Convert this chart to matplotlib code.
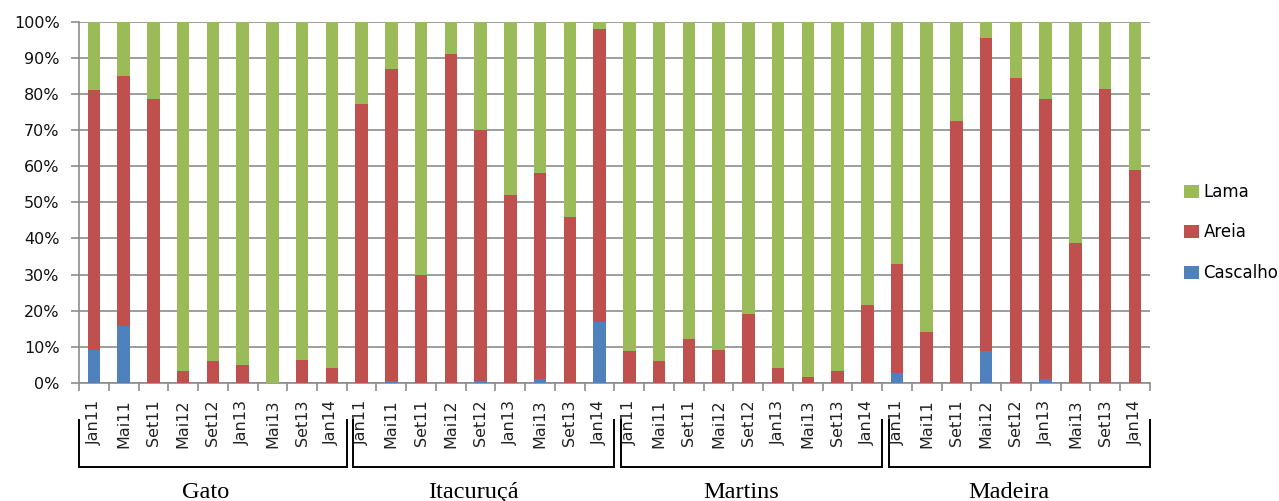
import matplotlib
matplotlib.use("Agg")
import matplotlib.pyplot as plt
import numpy as np

# ---------------------------------------------------------------------------
# DATA (% of sediment fraction per sample)
# ---------------------------------------------------------------------------

SITES = ["Gato", "Itacuruçá", "Martins", "Madeira"]
CAMPAIGNS = ["Jan11", "Mai11", "Set11", "Mai12", "Set12", "Jan13", "Mai13", "Set13", "Jan14"]

# Cascalho (gravel)
cascalho = [
    9.2, 15.9, 0, 0, 0, 0, 0, 0, 0,
    0, 0.6, 0, 0, 0.6, 0, 1.1, 0, 16.8,
    0, 0, 0, 0, 0, 0, 0, 0, 0,
    2.8, 0, 0, 8.8, 0, 1.1, 0, 0, 0,
]

# cumulative top of Areia (cascalho + areia)
areia_top = [
    81.1, 84.8, 78.5, 3.4, 6.1, 5.1, 0, 6.5, 4.2,
    77.1, 87.0, 29.8, 91.1, 70.0, 52.1, 58.0, 45.9, 97.8,
    8.8, 6.1, 12.3, 9.2, 19.0, 4.2, 1.6, 3.3, 21.7,
    32.9, 14.1, 72.6, 95.5, 84.3, 78.5, 38.7, 81.2, 58.8,
]

cascalho = np.array(cascalho)
areia = np.array(areia_top) - cascalho
lama = 100 - cascalho - areia

COLORS = {"Cascalho": "#4F81BD", "Areia": "#C0504D", "Lama": "#9BBB59"}
GRID = "#8C8C8C"

# ---------------------------------------------------------------------------
# PLOT
# ---------------------------------------------------------------------------

fig = plt.figure(figsize=(12.79, 5.01), dpi=100)
ax = fig.add_axes([0.0618, 0.2355, 0.899 - 0.0618, 0.957 - 0.2355])

n = len(cascalho)
x = np.arange(n) + 0.5
w = 0.42

b1 = ax.bar(x, cascalho, w, color=COLORS["Cascalho"], label="Cascalho", zorder=3)
b2 = ax.bar(x, areia, w, bottom=cascalho, color=COLORS["Areia"], label="Areia", zorder=3)
b3 = ax.bar(x, lama, w, bottom=cascalho + areia, color=COLORS["Lama"], label="Lama", zorder=3)

ax.set_xlim(0, n)
ax.set_ylim(0, 100)
ax.set_yticks(range(0, 101, 10))
ax.set_yticklabels([f"{v}%" for v in range(0, 101, 10)], fontsize=11.5, color="#111111")
ax.yaxis.grid(True, color=GRID, linewidth=1.2, zorder=0)

# major ticks at slot boundaries, labels on minor ticks at bar centres
ax.set_xticks(np.arange(n + 1))
ax.set_xticklabels([])
ax.set_xticks(x, minor=True)
ax.set_xticklabels(CAMPAIGNS * len(SITES), minor=True, rotation=90, fontsize=11.5,
                   color="#222222", va="top")
ax.tick_params(axis="x", which="minor", length=0, pad=12)
ax.tick_params(axis="x", which="major", length=6, color=GRID, width=1.2)
ax.tick_params(axis="y", length=6, color=GRID, width=1.2, pad=8)

for side in ["top", "right"]:
    ax.spines[side].set_visible(False)
for side in ["left", "bottom"]:
    ax.spines[side].set_color(GRID)
    ax.spines[side].set_linewidth(1.2)

# group brackets and site names
trans = ax.get_xaxis_transform()
per = len(CAMPAIGNS)
for g, site in enumerate(SITES):
    x0 = g * per + (0.22 if g > 0 else 0.0)
    x1 = (g + 1) * per
    ax.plot([x0, x0, x1, x1], [-0.1024, -0.2325, -0.2325, -0.1024], transform=trans,
            color="black", linewidth=1.4, clip_on=False, solid_joinstyle="miter")
    ax.text((g * per + x1) / 2 - 0.24, -0.318, site, transform=trans, ha="center",
            va="baseline", fontsize=17.5, family="Liberation Serif")

fig.legend(handles=[b3, b2, b1], labels=["Lama", "Areia", "Cascalho"],
           loc="center left", bbox_to_anchor=(0.926, 0.536), frameon=False,
           fontsize=12, handlelength=0.85, handleheight=0.85, handletextpad=0.3,
           labelspacing=1.35, borderpad=0, borderaxespad=0)

plt.savefig("out.png", dpi=100)
